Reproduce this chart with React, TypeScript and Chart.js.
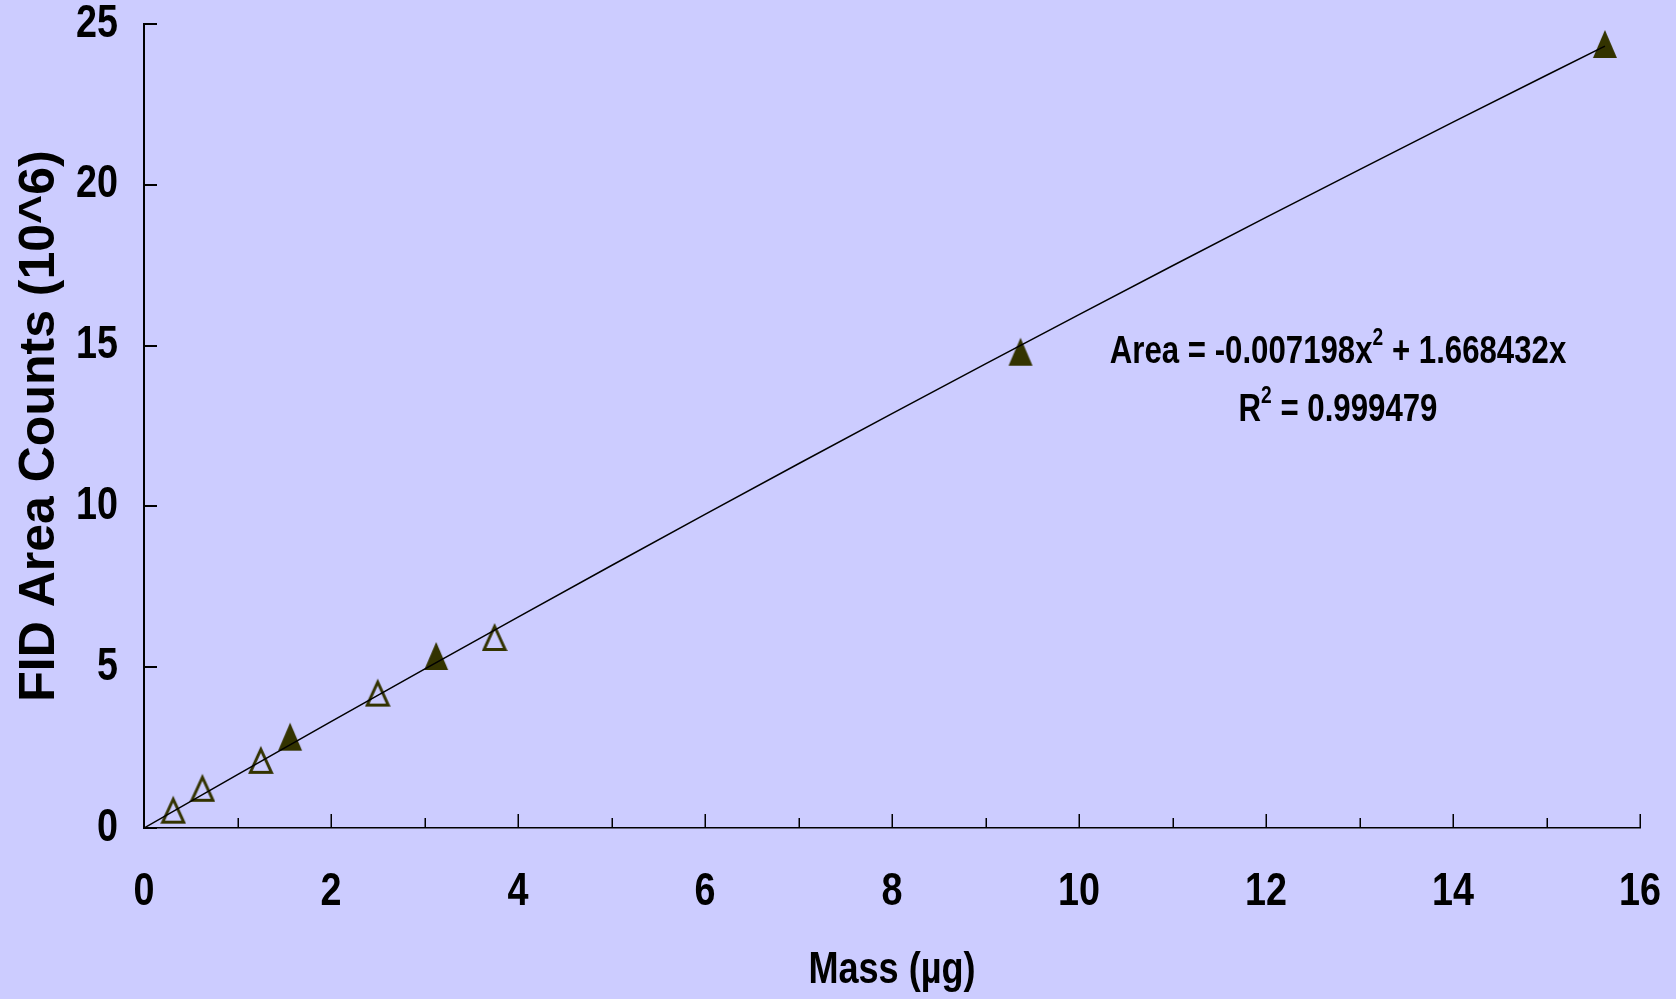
import React, { useEffect, useRef } from "react";
import { Chart, registerables } from "chart.js";

Chart.register(...registerables);

// ---- data ----
const openMass = [0.3125, 0.625, 1.25, 2.5, 3.75];
const openArea = [0.57, 1.25, 2.12, 4.21, 5.94];
const filledMass = [1.5625, 3.125, 9.375, 15.625];
const filledArea = [2.84, 5.35, 14.81, 24.38];
const trendMass = [0, 1, 2, 3, 4, 5, 6, 7, 8, 9, 10, 11, 12, 13, 14, 15, 15.625];
const trendArea = [0, 1.661, 3.308, 4.941, 6.559, 8.162, 9.751, 11.326, 12.887, 14.433, 15.965, 17.482, 18.985, 20.473, 21.947, 23.407, 24.312];
const xTickValues = [0, 2, 4, 6, 8, 10, 12, 14, 16];
const xMinorTickValues = [1, 3, 5, 7, 9, 11, 13, 15];
const yTickValues = [0, 5, 10, 15, 20, 25];
const xTitle = "Mass (\u00b5g)";
const yTitle = "FID Area Counts (10^6)";
const eqLine1 = ["Area = -0.007198x", "2", " + 1.668432x"];
const eqLine2 = ["R", "2", " = 0.999479"];
const eqAnchor = { x: 12.77, y1: 14.46, y2: 12.66 };

const BG = "#ccccff";
const MARK = "#333300";
const FAMILY = "'Liberation Sans', Arial, sans-serif";
const SQUEEZE = 0.82;

function makeTriangle(filled: boolean): HTMLCanvasElement {
  const W = 26, H = 30;
  const c = document.createElement("canvas");
  c.width = W;
  c.height = H;
  const g = c.getContext("2d")!;
  g.beginPath();
  if (filled) {
    g.moveTo(W / 2, 1);
    g.lineTo(W - 1, H - 1);
    g.lineTo(1, H - 1);
    g.closePath();
    g.fillStyle = MARK;
    g.fill();
  } else {
    g.moveTo(W / 2, 4.5);
    g.lineTo(W - 2.5, H - 2.5);
    g.lineTo(2.5, H - 2.5);
    g.closePath();
    g.lineWidth = 3;
    g.lineJoin = "miter";
    g.miterLimit = 4;
    g.strokeStyle = MARK;
    g.stroke();
  }
  return c;
}

function squeezedText(
  ctx: CanvasRenderingContext2D,
  text: string,
  x: number,
  y: number,
  size: number,
  align: CanvasTextAlign,
  baseline: CanvasTextBaseline,
  sx = SQUEEZE
) {
  ctx.save();
  ctx.translate(x, y);
  ctx.scale(sx, 1);
  ctx.font = `bold ${size}px ${FAMILY}`;
  ctx.textAlign = align;
  ctx.textBaseline = baseline;
  ctx.fillStyle = "#000";
  ctx.fillText(text, 0, 0);
  ctx.restore();
}

const bgPlugin = {
  id: "bg",
  beforeDraw(chart: any) {
    const { ctx, width, height } = chart;
    ctx.save();
    ctx.fillStyle = BG;
    ctx.fillRect(0, 0, width, height);
    ctx.restore();
  },
};

const axesPlugin = {
  id: "innerTicksAndLabels",
  beforeDatasetsDraw(chart: any) {
    const { ctx, scales, chartArea } = chart;
    const xs = scales.x, ys = scales.y;
    const x0 = xs.getPixelForValue(0);
    const y0 = ys.getPixelForValue(0);
    ctx.save();
    ctx.strokeStyle = "#000";
    ctx.lineWidth = 1.5;
    xTickValues.forEach((v) => {
      if (v === 0) return;
      const px = Math.round(xs.getPixelForValue(v)) + 0.25;
      ctx.beginPath();
      ctx.moveTo(px, y0);
      ctx.lineTo(px, y0 - 14);
      ctx.stroke();
    });
    xMinorTickValues.forEach((v) => {
      const px = Math.round(xs.getPixelForValue(v)) + 0.25;
      ctx.beginPath();
      ctx.moveTo(px, y0);
      ctx.lineTo(px, y0 - 10);
      ctx.stroke();
    });
    ctx.lineWidth = 2;
    yTickValues.forEach((v) => {
      const py = Math.round(ys.getPixelForValue(v));
      ctx.beginPath();
      ctx.moveTo(x0, py);
      ctx.lineTo(x0 + 13, py);
      ctx.stroke();
    });
    ctx.restore();

    // tick labels (squeezed bold, like the original)
    xTickValues.forEach((v) => {
      squeezedText(ctx, String(v), xs.getPixelForValue(v), y0 + 64, 46, "center", "middle");
    });
    yTickValues.forEach((v) => {
      squeezedText(ctx, String(v), x0 - 26, ys.getPixelForValue(v), 46, "right", "middle");
    });
    // x axis title
    squeezedText(ctx, xTitle, (chartArea.left + chartArea.right) / 2, y0 + 155, 44, "center", "alphabetic");
  },
};

function drawEqLine(ctx: CanvasRenderingContext2D, parts: string[], cx: number, baseY: number) {
  const sx = 0.8;
  const main = `bold 39px ${FAMILY}`;
  const sup = `bold 24px ${FAMILY}`;
  ctx.font = main;
  const w0 = ctx.measureText(parts[0]).width;
  const w2 = ctx.measureText(parts[2]).width;
  ctx.font = sup;
  const w1 = ctx.measureText(parts[1]).width;
  const total = w0 + w1 + w2;
  ctx.save();
  ctx.translate(cx, baseY);
  ctx.scale(sx, 1);
  let x = -total / 2;
  ctx.textAlign = "left";
  ctx.textBaseline = "alphabetic";
  ctx.fillStyle = "#000";
  ctx.font = main;
  ctx.fillText(parts[0], x, 0);
  x += w0;
  ctx.font = sup;
  ctx.fillText(parts[1], x, -18);
  x += w1;
  ctx.font = main;
  ctx.fillText(parts[2], x, 0);
  ctx.restore();
}

const eqPlugin = {
  id: "equation",
  afterDraw(chart: any) {
    const { ctx, scales } = chart;
    const cx = scales.x.getPixelForValue(eqAnchor.x);
    drawEqLine(ctx, eqLine1, cx, scales.y.getPixelForValue(eqAnchor.y1));
    drawEqLine(ctx, eqLine2, cx, scales.y.getPixelForValue(eqAnchor.y2));
  },
};

export default function App() {
  const ref = useRef<HTMLCanvasElement | null>(null);
  useEffect(() => {
    if (!ref.current) return;
    const filledImg = makeTriangle(true);
    const openImg = makeTriangle(false);
    const chart = new Chart(ref.current, {
      type: "scatter",
      data: {
        datasets: [
          {
            label: "fit",
            data: trendMass.map((x, i) => ({ x, y: trendArea[i] })),
            showLine: true,
            borderColor: "#000",
            borderWidth: 1.5,
            pointRadius: 0,
            fill: false,
            order: 0,
          } as any,
          {
            label: "filled",
            data: filledMass.map((x, i) => ({ x, y: filledArea[i] })),
            pointStyle: filledImg,
            order: 1,
          },
          {
            label: "open",
            data: openMass.map((x, i) => ({ x, y: openArea[i] })),
            pointStyle: openImg,
            order: 2,
          },
        ],
      },
      options: {
        animation: false,
        responsive: false,
        events: [],
        layout: { padding: { top: 24, right: 36, bottom: 0, left: 0 } },
        plugins: { legend: { display: false }, tooltip: { enabled: false } },
        scales: {
          x: {
            type: "linear",
            min: 0,
            max: 16,
            afterBuildTicks: (s: any) => {
              s.ticks = xTickValues.map((v) => ({ value: v }));
            },
            afterFit: (s: any) => {
              s.height = 171;
              s.paddingLeft = 0;
              s.paddingRight = 0;
            },
            grid: { display: false, drawTicks: false, tickLength: 0 },
            border: { display: true, color: "#000", width: 1.5 },
            ticks: { display: false },
            title: { display: false, text: xTitle },
          },
          y: {
            type: "linear",
            min: 0,
            max: 25,
            afterBuildTicks: (s: any) => {
              s.ticks = yTickValues.map((v) => ({ value: v }));
            },
            afterFit: (s: any) => {
              s.width = 144;
              s.paddingTop = 0;
              s.paddingBottom = 0;
            },
            grid: { display: false, drawTicks: false, tickLength: 0 },
            border: { display: true, color: "#000", width: 2 },
            ticks: { display: false },
            title: {
              display: true,
              text: yTitle,
              color: "#000",
              padding: { top: 10, bottom: 0 },
              font: { family: FAMILY, size: 50, weight: "bold" },
            },
          },
        },
      },
      plugins: [bgPlugin, axesPlugin, eqPlugin],
    } as any);
    return () => chart.destroy();
  }, []);
  return (
    <div style={{ position: "fixed", left: 0, top: 0, width: 1676, height: 999, background: BG }}>
      <canvas ref={ref} width={1676} height={999} style={{ display: "block" }} />
    </div>
  );
}
